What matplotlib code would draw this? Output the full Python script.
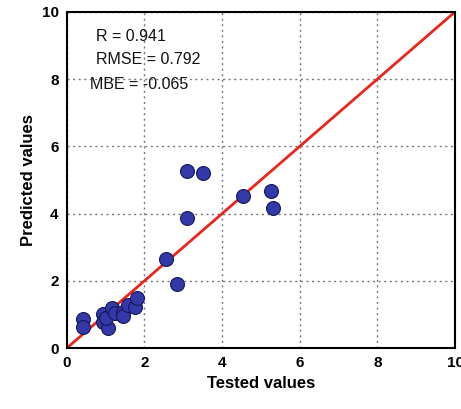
import matplotlib.pyplot as plt

# tested vs predicted values
tested = [0.41, 0.41, 0.93, 0.93, 1.06, 1.0, 1.16, 1.24, 1.44, 1.44, 1.57, 1.75, 1.8,
          2.55, 2.85, 3.1, 3.1, 3.5, 4.55, 5.25, 5.3]
predicted = [0.85, 0.64, 1.02, 0.77, 0.6, 0.9, 1.19, 1.04, 1.07, 0.95, 1.28, 1.22, 1.48,
             2.65, 1.9, 3.87, 5.28, 5.2, 4.52, 4.68, 4.18]
stats = ["R = 0.941", "RMSE = 0.792", "MBE = -0.065"]

plt.rcParams['font.family'] = ['Liberation Sans', 'DejaVu Sans']

fig = plt.figure(figsize=(4.61, 4.09), dpi=100)
ax = fig.add_axes([0.145, 0.149, 0.842, 0.822])

ax.grid(True, linestyle=(0, (1.5, 2.5)), color='#777777', linewidth=1.0)
ax.set_axisbelow(True)

ax.plot([0, 10], [0, 10], color='#e8261c', linewidth=2, zorder=2)
ax.scatter(tested, predicted, s=100, color='#3339a8', edgecolors='#15185a',
           linewidths=0.8, zorder=3)

ax.set_xlim(0, 10)
ax.set_ylim(0, 10)
ax.set_xticks(range(0, 11, 2))
ax.set_yticks(range(0, 11, 2))
ax.tick_params(labelsize=11, length=0, pad=6)
for lbl in ax.get_xticklabels() + ax.get_yticklabels():
    lbl.set_fontweight('bold')
for sp in ax.spines.values():
    sp.set_linewidth(1.5)

ax.set_xlabel("Tested values", fontsize=12, fontweight='bold')
ax.set_ylabel("Predicted values", fontsize=12, fontweight='bold')

ys = [9.28, 8.57, 7.85]
xs = [0.75, 0.75, 0.6]
for t, x, y in zip(stats, xs, ys):
    ax.text(x, y, t, fontsize=11.5, va='center', ha='left', color='#111111')

fig.savefig("out.png", dpi=100)
